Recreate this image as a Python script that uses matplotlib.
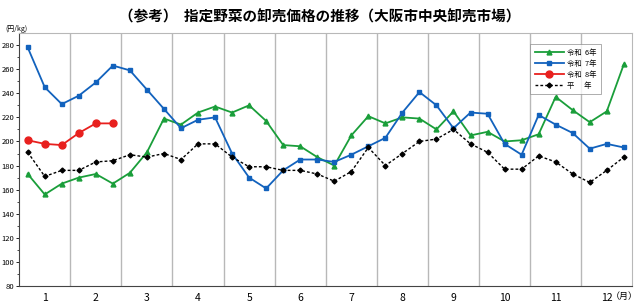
import matplotlib
matplotlib.use("Agg")
import matplotlib.pyplot as plt
import numpy as np

plt.rcParams['font.family'] = ['Noto Sans CJK JP', 'DejaVu Sans']

months = ['1', '2', '3', '4', '5', '6', '7', '8', '9', '10', '11', '12']

# 旬別 (上・中・下旬) 卸売価格 円/kg
r6 = [173, 156, 165, 170, 173, 165, 174, 191, 219, 214, 224, 229,
      224, 230, 217, 197, 196, 187, 180, 205, 221, 215, 220, 219,
      210, 225, 205, 208, 200, 201, 206, 237, 226, 216, 225, 264]
r7 = [278, 245, 231, 238, 249, 263, 259, 243, 227, 211, 218, 220,
      190, 170, 161, 176, 185, 185, 183, 189, 196, 203, 224, 241,
      230, 211, 224, 223, 198, 189, 222, 214, 207, 194, 198, 195]
r8 = [201, 198, 197, 207, 215, 215]
normal = [191, 171, 176, 176, 183, 184, 189, 187, 190, 185, 198, 198,
          187, 179, 179, 176, 176, 173, 167, 175, 195, 180, 190, 200,
          202, 210, 198, 191, 177, 177, 188, 183, 173, 166, 176, 187]

fig = plt.figure(figsize=(6.4, 3.03), dpi=100)
ax = fig.add_axes([0.030, 0.056, 0.958, 0.835])

x = np.arange(len(r7))
ax.plot(x, r6, color='#1a9e3a', lw=1.3, marker='^', ms=3.5, label='令和  6年')
ax.plot(x, r7, color='#1262bd', lw=1.3, marker='s', ms=3.5, label='令和  7年')
ax.plot(x[:len(r8)], r8, color='#e8201e', lw=1.3, marker='o', ms=5, label='令和  8年')
ax.plot(x, normal, color='black', lw=1.0, ls=(0, (2, 1.5)), marker='D', ms=2.5,
        label='平      年')

for b in np.arange(2.5, 35, 3):
    ax.axvline(b, color='#b8b8b8', lw=1.0, zorder=0)

ax.set_xlim(-0.5, 35.5)
ax.set_ylim(80, 290)
ax.set_yticks(np.arange(80, 281, 20))
ax.set_yticks(np.arange(80, 290, 10), minor=True)
ax.tick_params(axis='y', labelsize=5.5, length=2.5, width=0.6, pad=1)
ax.tick_params(axis='y', which='minor', length=1.5, width=0.5)
ax.set_xticks(np.arange(1, 36, 3))
ax.set_xticklabels(months)
ax.tick_params(axis='x', labelsize=7.5, length=0, pad=5)

for s in ['top', 'right']:
    ax.spines[s].set_color('#b8b8b8')
for s in ['left', 'bottom']:
    ax.spines[s].set_color('#444444')
    ax.spines[s].set_linewidth(0.8)

leg = ax.legend(loc='upper right', bbox_to_anchor=(0.955, 0.97), fontsize=5.3,
                frameon=True, fancybox=False, handlelength=4.0, labelspacing=0.4,
                borderpad=0.6, handletextpad=0.4)
leg.get_frame().set_edgecolor('#888888')
leg.get_frame().set_linewidth(0.6)

fig.text(0.5, 0.945, '（参考）  指定野菜の卸売価格の推移（大阪市中央卸売市場）',
         ha='center', va='center', fontsize=10.5, fontweight='bold')
fig.text(0.008, 0.905, '(円/kg)', ha='left', va='center', fontsize=5)
fig.text(0.997, 0.022, '（月）', ha='right', va='center', fontsize=6.5)

fig.savefig('out.png', dpi=100)
